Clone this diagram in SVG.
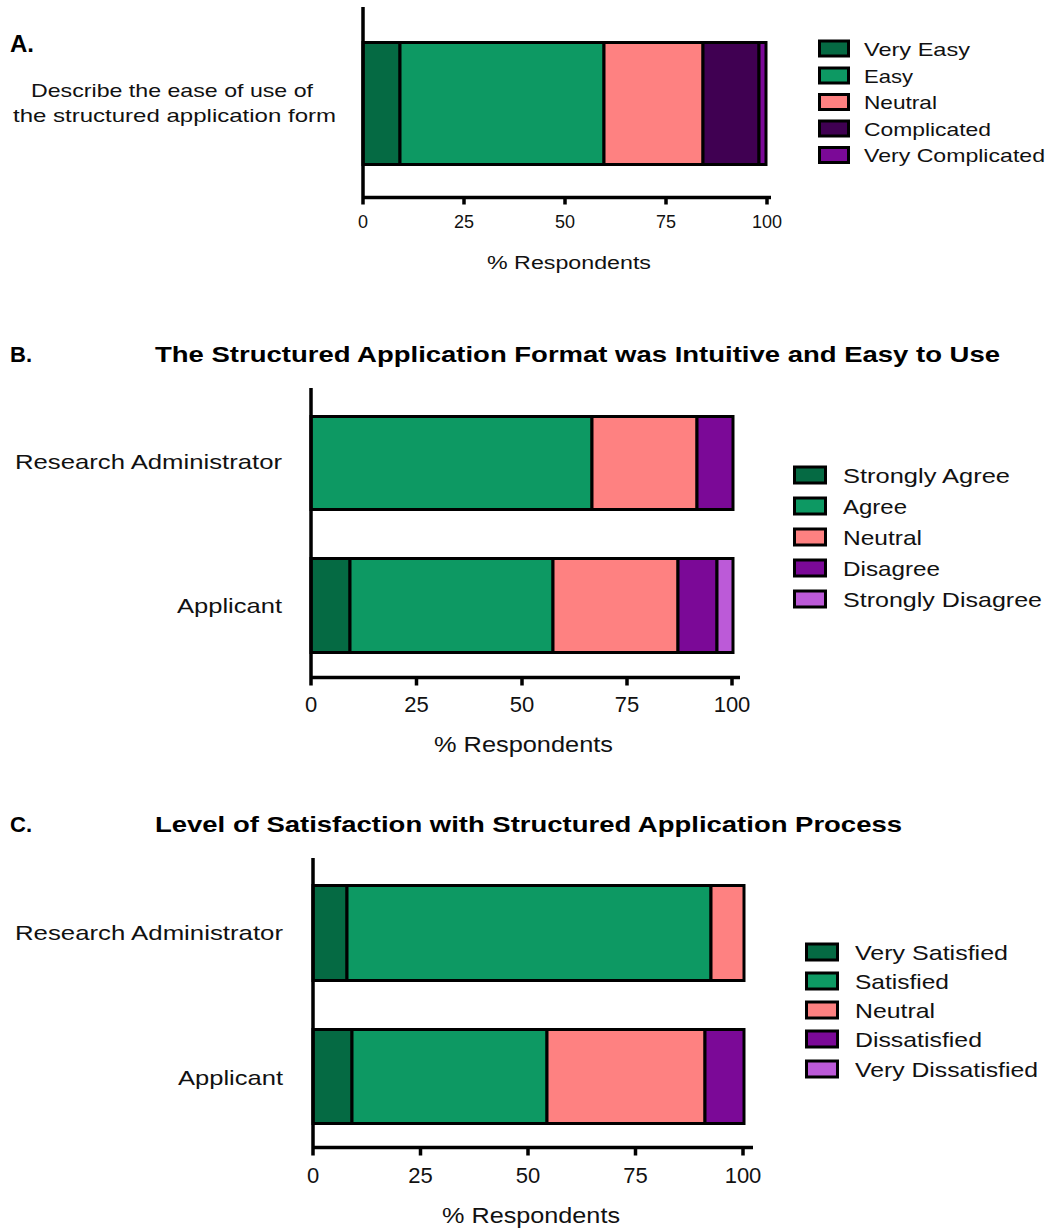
<svg xmlns="http://www.w3.org/2000/svg" width="1049" height="1230" viewBox="0 0 1049 1230">
<style>
text{font-family:"Liberation Sans",Arial,sans-serif;fill:#111}
.h{font-weight:bold;font-size:22px;fill:#000}
.lab{font-size:21px}
.tk{font-size:22px;text-anchor:middle}
.tka{font-size:18px;text-anchor:middle}
.ax{stroke:#000;stroke-width:3.5;fill:none}
.seg{stroke:#000;stroke-width:3}
.sw{stroke:#000;stroke-width:3}
.c1{fill:#056A43}.c2{fill:#0D9963}.c3{fill:#FE8181}.c4{fill:#400052}.c5{fill:#7B0997}.c6{fill:#BC5AD8}
</style>

<!-- Panel A -->
<g id="panelA">
<text class="h" x="10" y="52" style="font-size:24px">A.</text>
<text x="31" y="97" font-size="19" textLength="282" lengthAdjust="spacingAndGlyphs" fill="#222">Describe the ease of use of</text>
<text x="13" y="122" font-size="19" textLength="323" lengthAdjust="spacingAndGlyphs" fill="#222">the structured application form</text>
<g id="barA">
<rect class="seg c1" x="363" y="42.5" width="37" height="122"/>
<rect class="seg c2" x="400" y="42.5" width="204" height="122"/>
<rect class="seg c3" x="604" y="42.5" width="99" height="122"/>
<rect class="seg c4" x="703" y="42.5" width="56" height="122"/>
<rect class="seg c5" x="759" y="42.5" width="7" height="122"/>
</g>
<g id="axesA">
<path class="ax" d="M363 7V199M363 197.5H771M464 197.5v7M565 197.5v7M666 197.5v7M767 197.5v7M363 197.5v7"/>
<text class="tka" x="363" y="228">0</text>
<text class="tka" x="464" y="228">25</text>
<text class="tka" x="565" y="228">50</text>
<text class="tka" x="666" y="228">75</text>
<text class="tka" x="767" y="228">100</text>
<text x="487" y="269" font-size="18" textLength="164" lengthAdjust="spacingAndGlyphs">% Respondents</text>
</g>
<g id="legendA">
<rect class="sw c1" x="819.5" y="41" width="29" height="15"/>
<rect class="sw c2" x="819.5" y="68" width="29" height="15"/>
<rect class="sw c3" x="819.5" y="94.5" width="29" height="15"/>
<rect class="sw c4" x="819.5" y="121" width="29" height="15"/>
<rect class="sw c5" x="819.5" y="147.5" width="29" height="15"/>
<text x="864" y="56" font-size="18.5" textLength="106" lengthAdjust="spacingAndGlyphs">Very Easy</text>
<text x="864" y="83" font-size="18.5" textLength="49" lengthAdjust="spacingAndGlyphs">Easy</text>
<text x="864" y="109" font-size="18.5" textLength="73" lengthAdjust="spacingAndGlyphs">Neutral</text>
<text x="864" y="136" font-size="18.5" textLength="127" lengthAdjust="spacingAndGlyphs">Complicated</text>
<text x="864" y="162" font-size="18.5" textLength="181" lengthAdjust="spacingAndGlyphs">Very Complicated</text>
</g>
</g>

<!-- Panel B -->
<g id="panelB">
<text class="h" x="10" y="362">B.</text>
<text class="h" x="155" y="362" textLength="845" lengthAdjust="spacingAndGlyphs">The Structured Application Format was Intuitive and Easy to Use</text>
<text class="lab" x="15" y="469" textLength="267" lengthAdjust="spacingAndGlyphs">Research Administrator</text>
<text class="lab" x="177" y="613" textLength="105" lengthAdjust="spacingAndGlyphs">Applicant</text>
<g id="barB1">
<rect class="seg c2" x="311" y="416.5" width="281" height="93"/>
<rect class="seg c3" x="592" y="416.5" width="105" height="93"/>
<rect class="seg c5" x="697" y="416.5" width="36" height="93"/>
</g>
<g id="barB2">
<rect class="seg c1" x="311" y="558.5" width="39" height="94"/>
<rect class="seg c2" x="350" y="558.5" width="203" height="94"/>
<rect class="seg c3" x="553" y="558.5" width="125" height="94"/>
<rect class="seg c5" x="678" y="558.5" width="39" height="94"/>
<rect class="seg c6" x="717" y="558.5" width="16" height="94"/>
</g>
<g id="axesB">
<path class="ax" d="M311 388V679M311 677.5H740M311 677.5v8M416.5 677.5v8M522 677.5v8M627 677.5v8M732 677.5v8"/>
<text class="tk" x="311" y="712">0</text>
<text class="tk" x="416.5" y="712">25</text>
<text class="tk" x="522" y="712">50</text>
<text class="tk" x="627" y="712">75</text>
<text class="tk" x="732" y="712">100</text>
<text x="434" y="752" font-size="22" textLength="179" lengthAdjust="spacingAndGlyphs">% Respondents</text>
</g>
<g id="legendB">
<rect class="sw c1" x="794.5" y="467" width="31" height="16"/>
<rect class="sw c2" x="794.5" y="498" width="31" height="16"/>
<rect class="sw c3" x="794.5" y="529" width="31" height="16"/>
<rect class="sw c5" x="794.5" y="560" width="31" height="16"/>
<rect class="sw c6" x="794.5" y="591" width="31" height="16"/>
<text x="843" y="483" font-size="21" textLength="167" lengthAdjust="spacingAndGlyphs">Strongly Agree</text>
<text x="843" y="514" font-size="21" textLength="64" lengthAdjust="spacingAndGlyphs">Agree</text>
<text x="843" y="545" font-size="21" textLength="79" lengthAdjust="spacingAndGlyphs">Neutral</text>
<text x="843" y="576" font-size="21" textLength="97" lengthAdjust="spacingAndGlyphs">Disagree</text>
<text x="843" y="607" font-size="21" textLength="199" lengthAdjust="spacingAndGlyphs">Strongly Disagree</text>
</g>
</g>

<!-- Panel C -->
<g id="panelC">
<text class="h" x="10" y="832">C.</text>
<text class="h" x="155" y="832" textLength="747" lengthAdjust="spacingAndGlyphs">Level of Satisfaction with Structured Application Process</text>
<text class="lab" x="15" y="940" textLength="268" lengthAdjust="spacingAndGlyphs">Research Administrator</text>
<text class="lab" x="178" y="1085" textLength="105" lengthAdjust="spacingAndGlyphs">Applicant</text>
<g id="barC1">
<rect class="seg c1" x="313" y="885.5" width="34" height="95"/>
<rect class="seg c2" x="347" y="885.5" width="364" height="95"/>
<rect class="seg c3" x="711" y="885.5" width="33" height="95"/>
</g>
<g id="barC2">
<rect class="seg c1" x="313" y="1029.5" width="39" height="94"/>
<rect class="seg c2" x="352" y="1029.5" width="195" height="94"/>
<rect class="seg c3" x="547" y="1029.5" width="158" height="94"/>
<rect class="seg c5" x="705" y="1029.5" width="39" height="94"/>
</g>
<g id="axesC">
<path class="ax" d="M313 858V1149M313 1147.5H753M313 1147.5v8M420.5 1147.5v8M528 1147.5v8M635.5 1147.5v8M743 1147.5v8"/>
<text class="tk" x="313" y="1183">0</text>
<text class="tk" x="420.5" y="1183">25</text>
<text class="tk" x="528" y="1183">50</text>
<text class="tk" x="635.5" y="1183">75</text>
<text class="tk" x="743" y="1183">100</text>
<text x="442" y="1223" font-size="22" textLength="178" lengthAdjust="spacingAndGlyphs">% Respondents</text>
</g>
<g id="legendC">
<rect class="sw c1" x="806.5" y="944" width="31" height="16"/>
<rect class="sw c2" x="806.5" y="973" width="31" height="16"/>
<rect class="sw c3" x="806.5" y="1002" width="31" height="16"/>
<rect class="sw c5" x="806.5" y="1031" width="31" height="16"/>
<rect class="sw c6" x="806.5" y="1061" width="31" height="16"/>
<text x="855" y="960" font-size="21" textLength="153" lengthAdjust="spacingAndGlyphs">Very Satisfied</text>
<text x="855" y="989" font-size="21" textLength="94" lengthAdjust="spacingAndGlyphs">Satisfied</text>
<text x="855" y="1018" font-size="21" textLength="80" lengthAdjust="spacingAndGlyphs">Neutral</text>
<text x="855" y="1047" font-size="21" textLength="127" lengthAdjust="spacingAndGlyphs">Dissatisfied</text>
<text x="855" y="1077" font-size="21" textLength="183" lengthAdjust="spacingAndGlyphs">Very Dissatisfied</text>
</g>
</g>
</svg>
